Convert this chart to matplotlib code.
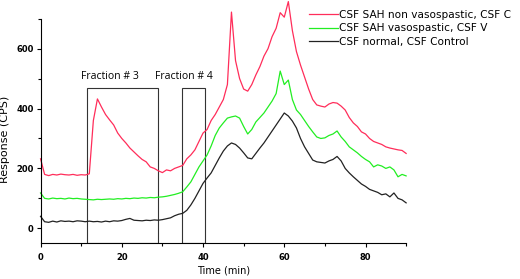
import matplotlib
matplotlib.use("Agg")
import matplotlib.pyplot as plt
from matplotlib.patches import Rectangle
from matplotlib.ticker import MultipleLocator

# ---- data ----
time_min = list(range(0, 91))

red_nonvaso = [232, 180, 176, 180, 178, 181, 179, 178, 180, 177,
               179, 178, 182, 360, 432, 405, 380, 362, 345, 318,
               300, 285, 268, 255, 242, 230, 222, 205, 200, 192,
               186, 195, 192, 200, 205, 210, 232, 245, 262, 290,
               318, 330, 360, 380, 405, 430, 480, 722, 560, 500,
               465, 458, 480, 512, 540, 575, 600, 640, 668, 720,
               705, 757, 660, 590, 545, 505, 465, 430, 412, 408,
               405, 415, 420, 418, 408, 395, 370, 352, 340, 322,
               315, 300, 290, 285, 280, 272, 268, 265, 262, 260, 250]

green_vaso = [118, 100, 98, 101, 99, 100, 98, 101, 99, 100,
              98, 97, 96, 95, 97, 96, 97, 98, 97, 99,
              98, 100, 99, 101, 100, 102, 101, 103, 102, 104,
              105, 107, 110, 113, 117, 122, 138, 155, 180, 205,
              225, 245, 275, 310, 335, 352, 368, 372, 375, 368,
              340, 315, 330, 355, 370, 385, 405, 425, 450, 525,
              480, 495, 430, 395, 380, 360, 340, 322, 305, 300,
              302, 310, 315, 325, 305, 290, 272, 262, 252, 240,
              230, 222, 205, 212, 208, 200, 205, 195, 172, 180, 175]

black_normal = [40, 22, 20, 24, 21, 25, 23, 24, 22, 25,
                24, 22, 24, 22, 23, 21, 24, 22, 25, 24,
                26, 30, 33, 27, 26, 25, 27, 26, 28, 27,
                29, 32, 35, 42, 47, 50, 60, 78, 100, 125,
                150, 168, 185, 210, 235, 258, 275, 285, 280, 268,
                252, 235, 232, 250, 268, 285, 305, 325, 345, 365,
                385, 375, 358, 335, 300, 272, 250, 228, 222, 220,
                218, 225, 230, 240, 225, 200, 185, 172, 160, 148,
                140, 130, 125, 120, 112, 115, 105, 118, 100, 95, 85]

series_labels = ["CSF SAH non vasospastic, CSF C",
                 "CSF SAH vasospastic, CSF V",
                 "CSF normal, CSF Control"]

fraction_labels = ["Fraction # 3", "Fraction # 4"]
fraction_start = [11.5, 34.7]
fraction_end = [28.9, 40.5]
fraction_top = 467

x_ticks = [0, 20, 40, 60, 80]
y_ticks = [0, 200, 400, 600]

# ---- figure ----
fig = plt.figure(figsize=(5.20, 2.79), dpi=100)
ax = fig.add_axes([0.078, 0.128, 0.703, 0.8695])
ax.set_xlim(0, 90)
ax.set_ylim(-50, 760)

colors = ["#ff2d5a", "#22ee22", "#222222"]
handles = []
for ys, c, lab in zip([red_nonvaso, green_vaso, black_normal], colors, series_labels):
    h, = ax.plot(time_min, ys, color=c, lw=0.9, label=lab, clip_on=False)
    handles.append(h)

for x0, x1 in zip(fraction_start, fraction_end):
    ax.add_patch(Rectangle((x0, -50), x1 - x0, fraction_top + 50,
                           fill=False, ec="#333333", lw=0.8))

ax.text(17.0, 506, fraction_labels[0],
        ha="center", va="center", fontsize=7.5, family="Open Sans")
ax.text(35.4, 506, fraction_labels[1],
        ha="center", va="center", fontsize=7.5, family="Open Sans")

for s in ["top", "right"]:
    ax.spines[s].set_visible(False)
ax.spines["left"].set_bounds(-50, 700)
ax.spines["left"].set_linewidth(0.8)
ax.spines["bottom"].set_linewidth(0.8)

ax.set_xticks(x_ticks)
ax.set_yticks(y_ticks)
ax.xaxis.set_minor_locator(MultipleLocator(10))
ax.set_yticks([100, 300, 500, 700], minor=True)
ax.tick_params(which="major", length=3, width=0.8, labelsize=6)
ax.tick_params(axis="x", which="major", pad=4)
ax.tick_params(axis="y", which="major", pad=2)
ax.tick_params(which="minor", length=2, width=0.8)
for lbl in ax.get_xticklabels() + ax.get_yticklabels():
    lbl.set_fontweight("bold")

ax.set_xlabel("Time (min)", fontsize=7)
ax.xaxis.set_label_coords(0.5, -0.09)
ax.set_ylabel("Response (CPS)", fontsize=8)
ax.yaxis.set_label_coords(-0.083, 0.43)

fig.legend(handles=handles, loc="upper left",
           bbox_to_anchor=(309 / 520, 1 - 10 / 279),
           frameon=False, fontsize=7.6, handlelength=2.7,
           handletextpad=0.15, labelspacing=0.32, borderpad=0,
           borderaxespad=0)

fig.savefig("out.png", dpi=100)
